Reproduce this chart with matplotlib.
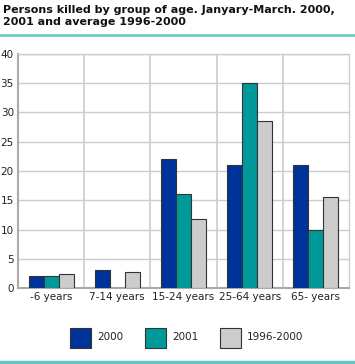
import matplotlib
matplotlib.use("Agg")
import matplotlib.pyplot as plt
from matplotlib.patches import Rectangle
from matplotlib.lines import Line2D
import numpy as np

categories = ["-6 years", "7-14 years", "15-24 years", "25-64 years", "65- years"]
series_names = ["2000", "2001", "1996-2000"]
v2000 = [2, 3, 22, 21, 21]
v2001 = [2, 0, 16, 35, 10]
vavg = [2.4, 2.8, 11.8, 28.6, 15.6]
colors = ["#003399", "#009999", "#cccccc"]
yticks = [0, 5, 10, 15, 20, 25, 30, 35, 40]

plt.rcParams['font.family'] = ['DejaVu Sans']
fig = plt.figure(figsize=(3.55, 3.64), dpi=100)
ax = fig.add_axes([18/355, 76/364, 331/355, 234/364])

x = np.arange(len(categories))
w = 0.227
for i, (vals, c) in enumerate(zip([v2000, v2001, vavg], colors)):
    ax.bar(x + (i - 1) * w, vals, width=w, color=c, edgecolor="#333333",
           linewidth=0.8, zorder=3)

ax.set_xlim(-0.5, len(categories) - 0.5)
ax.set_ylim(0, 40)
ax.set_yticks(yticks)
ax.set_yticklabels([str(t) for t in yticks], fontsize=7.5, color="#222222")
ax.set_xticks(x)
ax.set_xticklabels(categories, fontsize=7.5, color="#222222")
ax.tick_params(length=0, pad=3)
ax.grid(axis="y", color="#cccccc", linewidth=1, zorder=0)
for b in np.arange(0.5, len(categories) - 0.5, 1):
    ax.axvline(b, color="#cccccc", linewidth=1.2, zorder=0)
for s in ["top", "right"]:
    ax.spines[s].set_color("#cccccc")
    ax.spines[s].set_linewidth(1)
for s in ["left", "bottom"]:
    ax.spines[s].set_color("#aaaaaa")
    ax.spines[s].set_linewidth(1.5)

fig.text(3/355, 1 - 5/364,
         "Persons killed by group of age. Janyary-March. 2000,\n2001 and average 1996-2000",
         fontsize=8.0, fontweight="bold", va="top", ha="left", color="#111111",
         linespacing=1.3)
fig.add_artist(Line2D([0, 1], [1 - 35/364, 1 - 35/364], color="#66c6c6", linewidth=1.8))
fig.add_artist(Line2D([0, 1], [1 - 362/364, 1 - 362/364], color="#66c6c6", linewidth=2.5))

leg_x = [70, 145, 220]
for lx, c, name in zip(leg_x, colors, series_names):
    fig.add_artist(Rectangle((lx/355, 1 - 348/364), 21/355, 20/364,
                             facecolor=c, edgecolor="#333333", linewidth=0.8,
                             transform=fig.transFigure))
    fig.text((lx + 27)/355, 1 - 337/364, name, fontsize=7.5, va="center",
             ha="left", color="#222222")

fig.savefig("out.png", dpi=100)
